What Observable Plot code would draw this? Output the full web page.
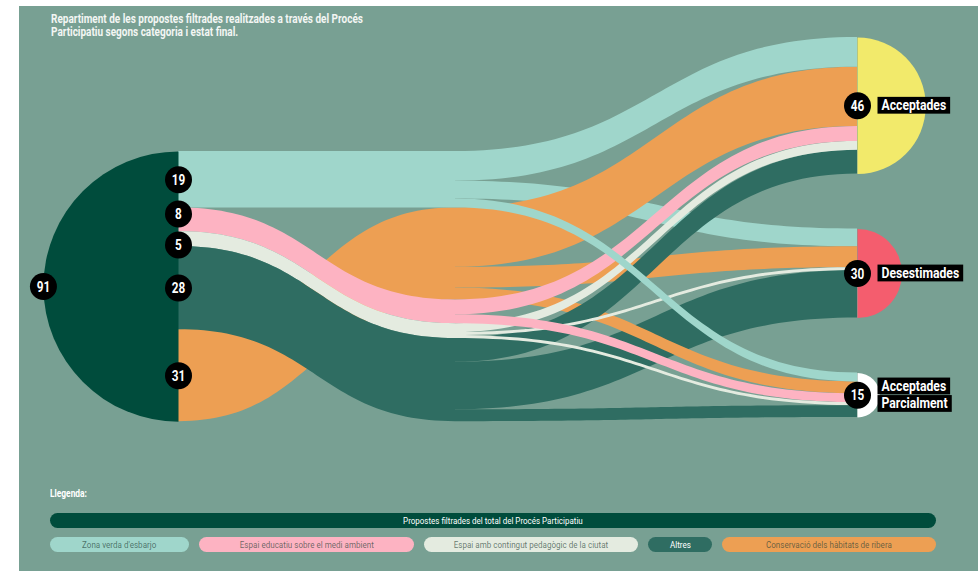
<!DOCTYPE html>
<html>
<head>
<meta charset="utf-8">
<script src="https://cdn.jsdelivr.net/npm/d3@7"></script>
<script src="https://cdn.jsdelivr.net/npm/@observablehq/plot@0.6"></script>
<style>
  html, body { margin: 0; padding: 0; background: #ffffff; }
  body { width: 978px; height: 571px; overflow: hidden; position: relative;
         font-family: Roboto, "Liberation Sans", sans-serif; }
  #panel { position: absolute; left: 19px; top: 6px; width: 959px; height: 565px; background: #78a093; }
  #chart { position: absolute; left: 0; top: 0; }
  #title { position: absolute; left: 32px; top: 7px; color: #f3f6f3; font-weight: bold;
           font-size: 11.9px; line-height: 13px; white-space: nowrap; transform-origin: 0 0; }
  #legend { position: absolute; left: 31px; top: 482px; width: 886px; color: #ffffff; }
  #legend .head { font-weight: bold; font-size: 10px; line-height: 12px; height: 12px; }
  #legend .head span { display: inline-block; transform-origin: 0 50%; }
  #legend .bar { margin-top: 13px; height: 15px; border-radius: 8px; background: #004c3c;
                 font-size: 9.5px; line-height: 15px; text-align: center; color: #ffffff; }
  #legend .row { margin-top: 9px; display: flex; justify-content: space-between; }
  #legend .pill { height: 15px; border-radius: 8px; font-size: 9.6px; line-height: 15px; text-align: center;
                  color: rgba(30, 62, 54, 0.66); white-space: nowrap; }
  #legend .bar span, #legend .pill span { display: inline-block; transform-origin: 50% 50%; }
</style>
</head>
<body>
<div id="panel">
  <div id="chart"></div>
  <div id="title">Repartiment de les propostes filtrades realitzades a través del Procés<br>Participatiu segons categoria i estat final.</div>
  <div id="legend"></div>
</div>
<script>
// Proposal categories, in the order they are stacked on the left
const categories = [
  "Zona verda d'esbarjo",
  "Espai educatiu sobre el medi ambient",
  "Espai amb contingut pedagògic de la ciutat",
  "Altres",
  "Conservació dels hàbitats de ribera"
];
const categoryColors = ["#9fd6cb", "#fdb3c2", "#e4ebe0", "#2f6d62", "#ed9f53"];

// Final states of the filtered proposals
const states = ["Acceptades", "Desestimades", "Acceptades Parcialment"];
const stateColors = ["#f2ea6b", "#f45d6e", "#ffffff"];

// Number of proposals of each category (same order as categories) per final state
const acceptades   = [10, 5, 3, 8, 20];
const desestimades = [6, 0, 1, 16, 7];
const parcialment  = [3, 3, 1, 4, 4];

const legendTitle = "Llegenda:";
const totalLabel = "Propostes filtrades del total del Procés Participatiu";

// ---------------------------------------------------------------- layout
const W = 959, H = 480;
const xRange = [159, 436, 838];          // left column, regrouping column, state column
const yRange = [31, 411];                 // pixel extent of the state column
const ySpan = 128;                        // proposals + gaps covered by the state column
const leftStart = 38.4;                   // where the left column begins (in proposals)
const nodeGap = 18.5;                     // gap between state nodes (in proposals)
const stackOrder = [0, 4, 1, 2, 3];       // category order in the regrouping and state columns
const pxPerUnit = (yRange[1] - yRange[0]) / ySpan;
const font = "Roboto, 'Liberation Sans', sans-serif";
const condense = 0.84;                    // horizontal squeeze of the narrow lettering
const condenseNames = 0.87;

const flows = [acceptades, desestimades, parcialment];             // [state][category]
const catTotal = categories.map((_, i) => d3.sum(flows, f => f[i]));
const stateTotal = flows.map(f => d3.sum(f));
const grand = d3.sum(catTotal);

let acc = leftStart;
const leftPos = catTotal.map(v => { const y0 = acc; acc += v; return y0; });
acc = leftStart;
const midPos = [];
stackOrder.forEach(i => { midPos[i] = acc; acc += catTotal[i]; });
acc = 0;
const statePos = stateTotal.map(v => { const y0 = acc; acc += v + nodeGap; return y0; });

// top edge of each sub-flow where it leaves the regrouping column / enters its state
const midTop = (i, s) => midPos[i] + d3.sum(flows.slice(0, s), f => f[i]);
const endTop = (i, s) => statePos[s] + d3.sum(stackOrder.slice(0, stackOrder.indexOf(i)), j => flows[s][j]);

// a band between two columns, edges following a horizontal cubic Bézier
function band(cat, xa, xb, a0, b0, w) {
  const pts = [];
  const n = 60;
  for (let k = 0; k <= n; k++) {
    const t = k / n;
    const bx = 1.5 * t * (1 - t) + t * t * t;
    const s = t * t * (3 - 2 * t);
    const top = a0 + (b0 - a0) * s;
    pts.push({cat, x: xa + (xb - xa) * bx, y1: top, y2: top + w});
  }
  return pts;
}

// painting order: [category, state] with state -1 for the left → regrouping bands
const paintOrder = [
  [4, -1], [0, -1], [1, -1], [2, -1], [3, -1],
  [0, 1], [3, 1], [3, 2], [4, 2], [4, 1], [4, 0], [0, 0],
  [3, 0], [2, 0], [1, 0], [2, 1], [1, 2], [2, 2], [0, 2]
];

const bandMarks = paintOrder
  .filter(([i, s]) => s < 0 || flows[s][i] > 0)
  .map(([i, s]) => {
    const pts = s < 0
      ? band(categories[i], 0, 1, leftPos[i], midPos[i], catTotal[i])
      : band(categories[i], 1, 2, midTop(i, s), endTop(i, s), flows[s][i]);
    return Plot.areaY(pts, {x: "x", y1: "y1", y2: "y2", fill: "cat", curve: "linear"});
  });

// half-disc symbols for the nodes
const halfLeft = {draw(ctx, size) { const r = Math.sqrt(size / Math.PI); ctx.moveTo(0, -r); ctx.arc(0, 0, r, -Math.PI / 2, Math.PI / 2, true); ctx.closePath(); }};
const halfRight = {draw(ctx, size) { const r = Math.sqrt(size / Math.PI); ctx.moveTo(0, -r); ctx.arc(0, 0, r, -Math.PI / 2, Math.PI / 2, false); ctx.closePath(); }};

const leftNode = [{x: 0, y: leftStart + grand / 2, v: grand}];
const stateNodes = states.map((s, k) => ({x: 2, y: statePos[k] + stateTotal[k] / 2, v: stateTotal[k], state: s}));

// value bubbles on the left column, nudged apart where they would overlap
const minSep = 31 / pxPerUnit;
const catLabels = catTotal.map((v, i) => ({x: 0, y: leftPos[i] + v / 2, v}));
for (let it = 0; it < 20; it++) {
  for (let i = 1; i < catLabels.length; i++) {
    const a = catLabels[i - 1], b = catLabels[i];
    const d = b.y - a.y;
    if (d < minSep) { const m = (minSep - d) / 2; a.y -= m; b.y += m; }
  }
}

// state name boxes: one row per word line
const lineStep = 17.5 / pxPerUnit;
const stateLines = stateNodes.flatMap(n => {
  const lines = n.state.split(" ");
  return lines.map((t, j) => ({x: 2, y: n.y + (j - (lines.length - 1) / 2) * lineStep, text: t}));
});

const leftR = grand / 2 * pxPerUnit;
const bubble = 13.5;
const numStyle = {fill: "#fff", fontWeight: "bold", fontSize: 14, fontFamily: font, dy: 0.5};

const chart = Plot.plot({
  width: W,
  height: H,
  margin: 0,
  style: {background: "transparent", overflow: "visible", fontFamily: font},
  x: {type: "linear", domain: [0, 1, 2], range: xRange, axis: null},
  y: {type: "linear", domain: [0, ySpan], range: yRange, axis: null},
  r: {type: "linear", domain: [0, ySpan], range: [0, (yRange[1] - yRange[0]) / 2]},
  color: {domain: categories, range: categoryColors},
  marks: [
    ...bandMarks,
    Plot.dot(leftNode, {x: "x", y: "y", r: "v", symbol: halfLeft, fill: "#004c3c", stroke: "none"}),
    ...stateNodes.map((n, k) => Plot.dot([n], {x: "x", y: "y", r: "v", symbol: halfRight, fill: stateColors[k], stroke: "none"})),
    Plot.dot(leftNode, {x: "x", y: "y", dx: -leftR, r: bubble, fill: "#000", stroke: "none"}),
    Plot.text(leftNode, {x: "x", y: "y", dx: -leftR, text: d => String(d.v), ...numStyle}),
    Plot.dot(catLabels, {x: "x", y: "y", r: bubble, fill: "#000", stroke: "none"}),
    Plot.text(catLabels, {x: "x", y: "y", text: d => String(d.v), ...numStyle}),
    Plot.dot(stateNodes, {x: "x", y: "y", r: bubble, fill: "#000", stroke: "none"}),
    Plot.text(stateNodes, {x: "x", y: "y", text: d => String(d.v), ...numStyle}),
    Plot.text(stateLines, {x: "x", y: "y", dx: 24, text: "text", textAnchor: "start", fill: "#fff", fontWeight: "bold", fontSize: 14, fontFamily: font})
  ]
});

document.getElementById("chart").appendChild(chart);

// narrow the lettering of the numbers and state names, then box the state names in black
const lineNames = new Set(stateLines.map(d => d.text));
d3.select(chart).selectAll("text").each(function () {
  const w = this.getComputedTextLength();
  const f = lineNames.has(this.textContent) ? condenseNames : condense;
  if (w > 0) {
    this.setAttribute("textLength", (w * f).toFixed(2));
    this.setAttribute("lengthAdjust", "spacingAndGlyphs");
  }
});
d3.select(chart).selectAll("text")
  .filter(function () { return lineNames.has(this.textContent); })
  .each(function () {
    const b = this.getBBox();
    const cy = b.y + b.height / 2;
    const rect = d3.select(this.parentNode).insert("rect", () => this)
      .attr("x", b.x - 4).attr("y", cy - 8.4)
      .attr("width", b.width + 8).attr("height", 16.8)
      .attr("fill", "#000");
    const tr = this.getAttribute("transform");
    if (tr) rect.attr("transform", tr);
  });

// legend
const legendWidths = [139, 215, 214, 64, 214];
const legend = d3.select("#legend");
legend.append("div").attr("class", "head").append("span").text(legendTitle);
legend.append("div").attr("class", "bar").append("span").text(totalLabel);
const row = legend.append("div").attr("class", "row");
categories.forEach((c, i) => {
  row.append("div").attr("class", "pill")
    .style("width", legendWidths[i] + "px")
    .style("background", categoryColors[i])
    .style("color", i === 3 ? "#ffffff" : null)
    .append("span").text(c);
});
d3.selectAll("#legend span").style("transform", `scaleX(${condense})`);
d3.select("#title").style("transform", `scaleX(${condense})`);
</script>
</body>
</html>
